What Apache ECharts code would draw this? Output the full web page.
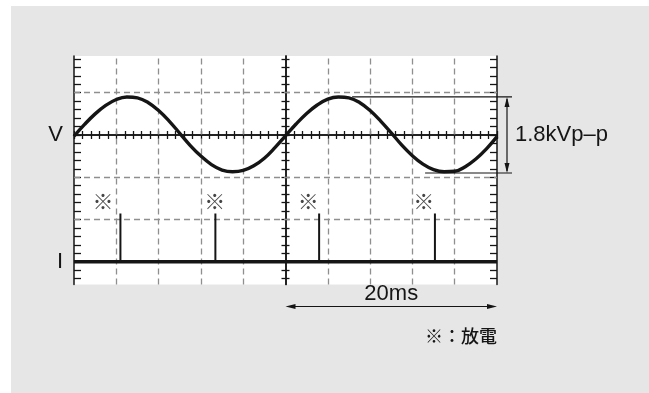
<!DOCTYPE html>
<html><head><meta charset="utf-8">
<script src="https://cdn.jsdelivr.net/npm/echarts@6/dist/echarts.min.js"></script>
<style>html,body{margin:0;padding:0;background:#fff;}#c{position:absolute;left:11px;top:6px;width:638px;height:387px;}</style>
</head><body><div id="c"></div>
<script>
// time axis in ms (4 ms / division), voltage in kV (1 kV / division)
const timeMs = [0,1,2,3,4,5,6,7,8,9,10,11,12,13,14,15,16,17,18,19,20,21,22,23,24,25,26,27,28,29,30,31,32,33,34,35,36,37,38,39,40];
const voltageKV = [-0.03,0.25,0.50,0.70,0.84,0.90,0.88,0.77,0.58,0.33,0.04,-0.25,-0.50,-0.70,-0.83,-0.87,-0.84,-0.73,-0.55,-0.30,-0.02,0.26,0.51,0.71,0.85,0.90,0.88,0.77,0.58,0.33,0.05,-0.24,-0.49,-0.69,-0.82,-0.87,-0.86,-0.75,-0.57,-0.33,-0.04];
const currentLevel = -3;             // I trace baseline (divisions)
const spikeTimes = [4.39, 13.37, 23.18, 34.13];
const spikeTops = [-1.86, -1.86, -1.86, -1.86];
const markerTimes = [2.74, 13.31, 22.14, 33.08];
const markerLevel = -1.56;
const markerText = '※';
const traceLabels = [{value: 0, text: 'V'}, {value: -3, text: 'I'}];
const ppHigh = 0.9, ppLow = -0.9;
const ppHighFrom = 26.3, ppLowFrom = 33.2;
const ppLabel = '1.8kVp\u2013p';
const spanFrom = 20, spanTo = 40;
const spanLabel = '20ms';
const noteLabel = '※：放電';
const xMin = 0, xMax = 40, yMin = -3.54, yMax = 1.87;
const dashX = [4, 8, 12, 16, 24, 28, 32, 36];
const dashY = [1, -1, -2];

const ticksY = []; for (let i = -17; i <= 9; i++) ticksY.push(Math.round(i * 0.2 * 100) / 100);
const ticksX = []; for (let i = 0; i <= 50; i++) ticksX.push(Math.round(i * 0.8 * 100) / 100);

const ink = '#151515';
const axisLine = {show: true, onZero: false, lineStyle: {color: ink, width: 1.5}};
function yAx(extra) {
  return Object.assign({type: 'value', min: yMin, max: yMax, gridIndex: 0, splitLine: {show: false},
    axisLabel: {show: false}}, extra);
}
function xAx(extra) {
  return Object.assign({type: 'value', min: xMin, max: xMax, gridIndex: 0, splitLine: {show: false},
    axisLabel: {show: false}}, extra);
}
const tick = (len, inside) => ({show: true, inside: inside, length: len, customValues: null, lineStyle: {color: ink, width: 1.3}});

const chart = echarts.init(document.getElementById('c'), null, {renderer: 'canvas'});
const option = {
  animation: false,
  backgroundColor: '#e6e6e6',
  grid: {left: 63, top: 50, width: 423, height: 228.5, show: true, backgroundColor: '#ffffff', borderWidth: 0},
  xAxis: [
    xAx({position: 'bottom', axisLine: {show: true, onZero: true, lineStyle: {color: ink, width: 1.5}},
      axisTick: Object.assign(tick(4, true), {customValues: ticksX})}),
    xAx({position: 'bottom', axisLine: {show: true, onZero: true, lineStyle: {color: ink, width: 1.5}},
      axisTick: Object.assign(tick(4, false), {customValues: ticksX})})
  ],
  yAxis: [
    yAx({position: 'left', axisLine: axisLine, axisTick: Object.assign(tick(7, true), {customValues: ticksY}),
      axisLabel: {show: true, customValues: traceLabels.map(d => d.value), margin: 11,
        formatter: v => (traceLabels.find(d => Math.abs(d.value - v) < 1e-6) || {text: ''}).text,
        fontFamily: 'Liberation Sans', fontSize: 22, color: ink}}),
    yAx({position: 'right', axisLine: axisLine, axisTick: Object.assign(tick(7, true), {customValues: ticksY})}),
    yAx({position: 'left', offset: -211.5, axisLine: axisLine, axisTick: Object.assign(tick(4, true), {customValues: ticksY})}),
    yAx({position: 'left', offset: -211.5, axisLine: axisLine, axisTick: Object.assign(tick(4, false), {customValues: ticksY})})
  ],
  series: [
    {type: 'line', name: 'grid', data: [], z: 1, silent: true,
      markLine: {silent: true, symbol: ['none', 'none'], animation: false, label: {show: false},
        lineStyle: {type: [6, 4], color: '#8f8f8f', width: 1.3},
        data: dashX.map(v => ({xAxis: v})).concat(dashY.map(v => ({yAxis: v})))}},
    {type: 'line', name: 'V', data: timeMs.map((t, i) => [t, voltageKV[i]]), smooth: 0.4, symbol: 'none', z: 5,
      lineStyle: {color: ink, width: 3.4}},
    {type: 'line', name: 'I', data: [[xMin, currentLevel], [xMax, currentLevel]], symbol: 'none', z: 5,
      lineStyle: {color: ink, width: 3.5}},
    {type: 'line', name: 'spikes', symbol: 'none', z: 5, connectNulls: false,
      data: spikeTimes.flatMap((t, i) => [[t, currentLevel], [t, spikeTops[i]], [t, '-']]),
      lineStyle: {color: ink, width: 2}},
    {type: 'scatter', name: 'marks', symbolSize: 0, z: 6,
      data: markerTimes.map(t => [t, markerLevel]),
      label: {show: true, position: 'inside', formatter: markerText, fontFamily: 'Noto Sans CJK JP', fontWeight: 'bold', fontSize: 21, color: ink}}
  ]
};
chart.setOption(option);

function px(x, y) { return chart.convertToPixel({xAxisIndex: 0, yAxisIndex: 0}, [x, y]); }
const pHigh = px(ppHighFrom, ppHigh), pLow = px(ppLowFrom, ppLow);
const rightX = px(xMax, 0)[0];
const zeroY = px(0, 0)[1];
const bottomY = px(0, yMin)[1];
const lineStyle = {stroke: ink, lineWidth: 1.2};
const g = [];
g.push({type: 'line', shape: {x1: pHigh[0], y1: pHigh[1], x2: rightX + 15, y2: pHigh[1]}, style: lineStyle, z: 10});
g.push({type: 'line', shape: {x1: pLow[0], y1: pLow[1], x2: rightX + 15, y2: pLow[1]}, style: lineStyle, z: 10});
const ax = rightX + 10;
g.push({type: 'line', shape: {x1: ax, y1: pHigh[1] + 2, x2: ax, y2: pLow[1] - 2}, style: lineStyle, z: 10});
g.push({type: 'polygon', shape: {points: [[ax, pHigh[1]], [ax - 2.5, pHigh[1] + 10], [ax + 2.5, pHigh[1] + 10]]}, style: {fill: ink}, z: 10});
g.push({type: 'polygon', shape: {points: [[ax, pLow[1]], [ax - 2.5, pLow[1] - 10], [ax + 2.5, pLow[1] - 10]]}, style: {fill: ink}, z: 10});
g.push({type: 'text', x: rightX + 18, y: zeroY, style: {text: ppLabel, fill: ink, font: '22px "Liberation Sans"', textVerticalAlign: 'middle', textAlign: 'left'}, z: 10});
// 20 ms span
const s0 = px(spanFrom, 0)[0], s1 = px(spanTo, 0)[0];
const ay = bottomY + 22;
g.push({type: 'line', shape: {x1: s0 + 3, y1: ay, x2: s1 - 3, y2: ay}, style: lineStyle, z: 10});
g.push({type: 'polygon', shape: {points: [[s0, ay], [s0 + 10, ay - 2.5], [s0 + 10, ay + 2.5]]}, style: {fill: ink}, z: 10});
g.push({type: 'polygon', shape: {points: [[s1, ay], [s1 - 10, ay - 2.5], [s1 - 10, ay + 2.5]]}, style: {fill: ink}, z: 10});
g.push({type: 'text', x: (s0 + s1) / 2, y: bottomY + 9, style: {text: spanLabel, fill: ink, font: '22px "Liberation Sans"', textVerticalAlign: 'middle', textAlign: 'center'}, z: 10});
g.push({type: 'text', x: s1, y: bottomY + 52, style: {text: noteLabel, fill: ink, font: '500 18px "Noto Sans CJK JP"', textVerticalAlign: 'middle', textAlign: 'right'}, z: 10});
chart.setOption({graphic: g});
</script></body></html>
